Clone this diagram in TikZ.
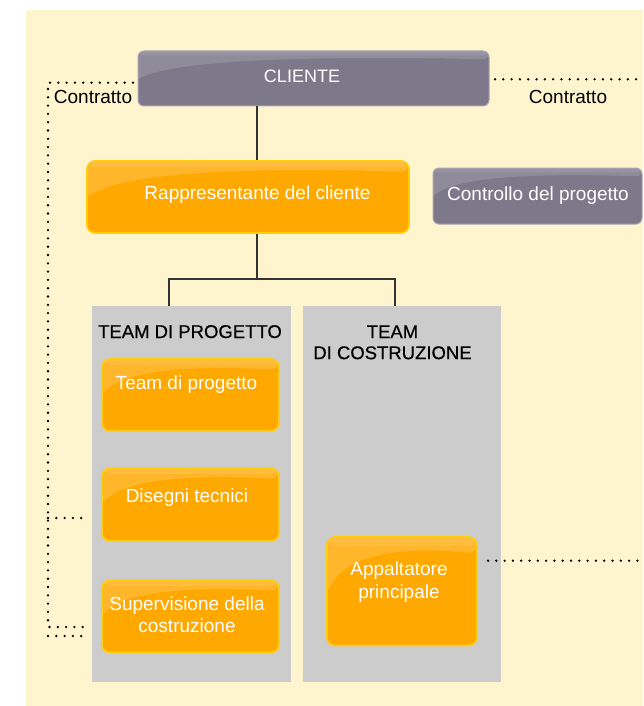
\documentclass[tikz,border=0pt]{standalone}
\usepackage{fontspec}
\setmainfont{Liberation Sans}
\usetikzlibrary{calc}

\definecolor{cream}{HTML}{FEF5CF}
\definecolor{slate}{HTML}{7E798A}
\definecolor{slateedge}{HTML}{A9A5B3}
\definecolor{amber}{HTML}{FFA800}
\definecolor{amberedge}{HTML}{FFCE0A}
\definecolor{panelgrey}{HTML}{CCCCCC}
\definecolor{wire}{HTML}{333333}

\tikzset{
  % glossy highlight in the upper part of a box
  gloss/.style={path picture={
    \fill[white,opacity=#1]
      (path picture bounding box.north west) -- (path picture bounding box.north east)
      -- ($(path picture bounding box.north east)!0.15!(path picture bounding box.south east)$)
      .. controls ($(path picture bounding box.north west)!0.4!(path picture bounding box.north east)
                    +(0,0)!0.15!($(path picture bounding box.south west)!0.4!(path picture bounding box.south east)$)$)
         and ($(path picture bounding box.north west)!0.05!(path picture bounding box.north east)
                    +(0,0)!0.35!($(path picture bounding box.south west)!0.05!(path picture bounding box.south east)$)$) ..
      ($(path picture bounding box.north west)!0.95!(path picture bounding box.south west)$) -- cycle;
    \fill[white,opacity=#1*0.6]
      (path picture bounding box.north west) rectangle
      ($(path picture bounding box.north east)!0.08!(path picture bounding box.south east)$);
  }},
  greybox/.style={draw=slateedge, line width=1pt, fill=slate, rounded corners=6pt,
    gloss=0.14, inner sep=0pt},
  orangebox/.style={draw=amberedge, line width=1.6pt, fill=amber, rounded corners=8pt,
    gloss=0.17, inner sep=0pt},
  panelbox/.style={fill=panelgrey, inner sep=0pt},
  boxtext/.style={text=white, font=\fontsize{19}{22.5}\selectfont, inner sep=0pt, align=center},
  titletext/.style={text=black, font=\fontsize{18.5}{21}\selectfont\addfontfeatures{FakeBold=0.5},
    inner sep=0pt, align=center},
  wirestyle/.style={draw=wire, line width=1.5pt},
  dots/.style={draw=black, line width=2.6pt, dash pattern=on 0pt off 8.3pt, line cap=round},
}

\begin{document}
\begin{tikzpicture}[x=1pt,y=-1pt]
  \useasboundingbox (0,0) rectangle (643,706);
  \fill[cream] (26,10) rectangle (643,706);

  % team panels
  \node[panelbox, minimum width=199pt, minimum height=375.5pt] (panelA) at (191.5,493.75) {};
  \node[panelbox, minimum width=198.5pt, minimum height=375.5pt] (panelB) at (401.75,493.75) {};

  % boxes
  \node[greybox, minimum width=351pt, minimum height=55pt] (cliente) at (313.5,78.5) {};
  \node[orangebox, minimum width=322pt, minimum height=72pt] (rapp) at (248,197) {};
  \node[greybox, minimum width=209pt, minimum height=56pt] (ctrl) at (537.5,196) {};
  \node[orangebox, minimum width=177pt, minimum height=72pt] (tdp) at (190.5,395) {};
  \node[orangebox, minimum width=177pt, minimum height=73pt] (dis) at (190.5,504.5) {};
  \node[orangebox, minimum width=177pt, minimum height=72.5pt] (sup) at (190.5,616.25) {};
  \node[orangebox, minimum width=150pt, minimum height=108.5pt] (app) at (402,591.25) {};

  % labels
  \node[boxtext, anchor=base, font=\fontsize{18}{21}\selectfont] (tcliente) at (302,83) {CLIENTE};
  \node[boxtext, anchor=base] (trapp) at (257.5,199.3) {Rappresentante del cliente};
  \node[boxtext, anchor=base] (tctrl) at (538,200.7) {Controllo del progetto};
  \node[boxtext, anchor=base] (ttdp) at (186.5,389) {Team di progetto};
  \node[boxtext, anchor=base] (tdis) at (187,502.3) {Disegni tecnici};
  \node[boxtext] (tsup) at (187,614.5) {Supervisione della\\costruzione};
  \node[boxtext] (tapp) at (399,582) {Appaltatore\\principale};

  \node[titletext, anchor=base] (tpa) at (190,338) {TEAM DI PROGETTO};
  \node[titletext] (tpb) at (392.5,342.4) {TEAM\\DI COSTRUZIONE};

  \node[titletext, anchor=base, font=\fontsize{19}{22}\selectfont] (contrL) at (93,104) {Contratto};
  \node[titletext, anchor=base, font=\fontsize{19}{22}\selectfont] (contrR) at (568,103.3) {Contratto};

  % hierarchy connectors
  \coordinate (trunk) at (257,0);
  \coordinate (fork) at (257,279);
  \coordinate (forkA) at (169,279);
  \coordinate (forkB) at (395,279);
  \draw[wirestyle] (cliente.south -| trunk) -- (rapp.north -| trunk);
  \draw[wirestyle] (rapp.south -| fork) -- (fork);
  \draw[wirestyle] (panelA.north -| forkA) -- (forkA) -- (forkB) -- (panelB.north -| forkB);

  % contract relations (dotted)
  \coordinate (dl0) at (133,82.7);
  \coordinate (dl1) at (48,82.7);
  \coordinate (dl2) at (48,627);
  \coordinate (dl3) at (89,627);
  \draw[dots] (dl0) -- (dl1) -- (dl2) -- (dl3);
  \coordinate (dm0) at (48,518);
  \coordinate (dm1) at (89,518);
  \draw[dots] (dm0) -- (dm1);
  \coordinate (dn0) at (48,636);
  \coordinate (dn1) at (89,636);
  \draw[dots] (dn0) -- (dn1);
  \coordinate (dr0) at (495,79.3);
  \coordinate (dr1) at (643,79.3);
  \draw[dots] (dr0) -- (dr1);
  \coordinate (ds0) at (488,560.7);
  \coordinate (ds1) at (643,560.7);
  \draw[dots] (ds0) -- (ds1);
\end{tikzpicture}
\end{document}
